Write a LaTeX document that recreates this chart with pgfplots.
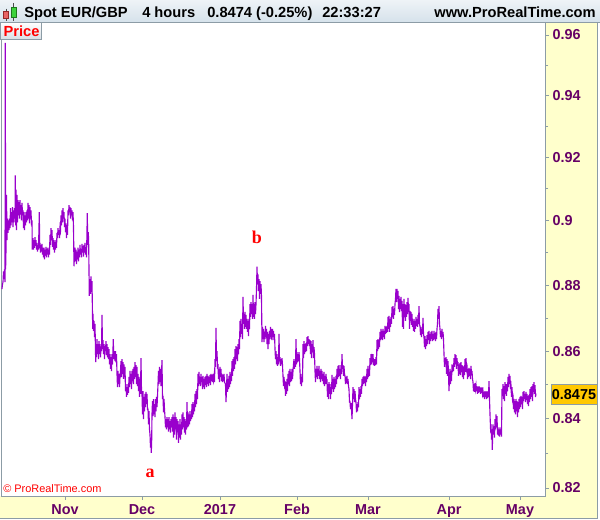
\documentclass[border=0pt]{standalone}
\usepackage{fontspec}
\setmainfont{Liberation Sans}
\newfontfamily\serifb{Liberation Serif}
\usepackage{pgfplots}
\pgfplotsset{compat=1.18}
\definecolor{ylw}{RGB}{255,255,204}
\definecolor{bordergray}{RGB}{140,156,166}
\definecolor{labpurple}{RGB}{102,0,102}
\definecolor{linecol}{RGB}{153,0,204}
\definecolor{hdrtop}{RGB}{238,243,247}
\definecolor{hdrbot}{RGB}{214,226,235}
\definecolor{pricebox}{RGB}{255,200,0}
\newcommand{\lab}{\fontsize{10.8pt}{12pt}\selectfont\bfseries}
\begin{document}
\begin{tikzpicture}
\path[use as bounding box] (0pt,0pt) rectangle (450pt,-389.25pt);
\begin{scope}[x=0.75pt,y=-0.75pt]
\fill[white] (0,0) rectangle (600,519);
\fill[ylw] (545,22) rectangle (597,518);
\fill[ylw] (0,496) rectangle (597,518);
\shade[top color=hdrtop,bottom color=hdrbot] (0,0) rectangle (600,22);
\draw[bordergray,line width=0.75pt] (0,22) -- (600,22);
\draw[bordergray,line width=0.75pt] (597,22) -- (597,518) -- (0,518);
% candle icon
\draw[black!70] (5.8,8.5) -- (5.8,20.5);
\filldraw[fill={rgb,255:red,232;green,100;blue,100},draw={rgb,255:red,150;green,40;blue,40}] (3.5,11.7) rectangle (8.2,18.3);
\draw[black!70] (13.7,3.3) -- (13.7,20.7);
\filldraw[fill={rgb,255:red,60;green,210;blue,60},draw={rgb,255:red,30;green,120;blue,30}] (10.8,7.3) rectangle (16.6,17.3);
\node[anchor=base west,inner sep=0pt,font=\fontsize{11pt}{12pt}\selectfont\bfseries] at (24,17.3) {Spot EUR/GBP};
\node[anchor=base west,inner sep=0pt,font=\fontsize{11pt}{12pt}\selectfont\bfseries] at (142,17.3) {4 hours};
\node[anchor=base west,inner sep=0pt,font=\fontsize{11pt}{12pt}\selectfont\bfseries] at (207,17.3) {0.8474 (-0.25\%)};
\node[anchor=base west,inner sep=0pt,font=\fontsize{11pt}{12pt}\selectfont\bfseries] at (322,17.3) {22:33:27};
\node[anchor=base east,inner sep=0pt,font=\fontsize{11pt}{12pt}\selectfont\bfseries] at (596,17.3) {www.ProRealTime.com};
\end{scope}
\begin{axis}[
  at={(0.75pt,-16.5pt)}, anchor=north west,
  scale only axis, width=408pt, height=355.5pt,
  xmin=1, xmax=545,
  ymode=log, ymin=0.817720, ymax=0.964352,
  axis line style={draw=bordergray, line width=0.75pt},
  xtick={65,142,220,297,368,449,520},
  xticklabels={Nov,Dec,2017,Feb,Mar,Apr,May},
  ytick={0.82,0.84,0.86,0.88,0.9,0.92,0.94,0.96},
  yticklabels={0.82,0.84,0.86,0.88,0.9,0.92,0.94,0.96},
  minor ytick={0.83,0.85,0.87,0.89,0.91,0.93,0.95},
  xtick pos=left, ytick pos=right,
  yticklabel pos=right,
  tick align=outside,
  major tick length=3pt, minor tick length=2.4pt,
  xtick style={draw=bordergray, line width=0.6pt},
  ytick style={draw=bordergray, line width=0.6pt},
  xticklabel style={font=\lab, text=labpurple, anchor=base, inner sep=0pt, yshift=-11.25pt},
  yticklabel style={font=\lab, text=labpurple, anchor=west, inner sep=0pt, xshift=2.5pt},
]
\addplot[linecol, line width=0.85pt] coordinates {
(2,0.8788) (2.5,0.8803) (3,0.8809) (3.5,0.8842) (4,0.8818) (4.5,0.8848) (5,0.8809) (5.3,0.9574) (5.6,0.8848)
(6,0.8909) (6.5,0.9081) (7,0.8939) (7.5,0.9006) (8,0.8961) (8.5,0.9000) (9,0.8970) (9.5,0.9006) (10,0.8976)
(10.5,0.9039) (11,0.8985) (11.5,0.9026) (12,0.8994) (12.5,0.9042) (13,0.8979) (13.5,0.9032) (14,0.8994)
(14.5,0.9039) (15,0.9006) (15.3,0.9142) (15.7,0.8985) (16,0.9097) (16.5,0.8970) (17,0.9081) (17.5,0.8994)
(18,0.9064) (18.5,0.9016) (19,0.9058) (19.5,0.9006) (20,0.9064) (20.5,0.9019) (21,0.9048) (21.5,0.9000)
(22,0.9055) (22.5,0.9016) (23,0.9032) (23.5,0.8976) (24,0.9026) (24.5,0.8970) (25,0.9016) (25.5,0.8985)
(26,0.9026) (26.5,0.8994) (27,0.9032) (27.5,0.9000) (28,0.9055) (28.5,0.9006) (29,0.9048) (29.5,0.8991)
(30,0.9042) (30.5,0.9006) (31,0.9032) (31.5,0.8985) (32,0.9000) (32.3,0.8909) (33,0.8945) (33.5,0.8909)
(34,0.8939) (34.5,0.8915) (35,0.8948) (35.5,0.8921) (36,0.8939) (36.5,0.8909) (37,0.8930) (37.5,0.8903)
(38,0.8924) (38.5,0.8909) (39.3,0.9026) (39.7,0.8915) (40,0.8930) (40.5,0.8900) (41,0.8924) (41.5,0.8903)
(42,0.8927) (42.5,0.8894) (43,0.8915) (43.5,0.8885) (44,0.8915) (44.5,0.8879) (45,0.8909) (45.5,0.8891)
(46,0.8918) (46.5,0.8885) (47,0.8912) (47.5,0.8894) (48,0.8915) (48.5,0.8885) (49,0.8909) (49.5,0.8894)
(50,0.8955) (50.5,0.8924) (51,0.8976) (51.5,0.8939) (52,0.8970) (52.5,0.8918) (53,0.8945) (53.5,0.8909)
(54,0.8939) (54.5,0.8900) (55,0.8933) (55.5,0.8909) (56,0.8939) (56.5,0.8915) (57,0.8961) (57.5,0.8945)
(58,0.8976) (58.5,0.8955) (59,0.8970) (59.5,0.8945) (60,0.8979) (60.5,0.8970) (61,0.9016) (61.5,0.8985)
(62,0.9032) (62.5,0.8994) (63,0.9039) (63.5,0.9006) (64,0.9026) (64.5,0.8979) (65,0.9006) (65.5,0.8964)
(66,0.8991) (66.5,0.8945) (67,0.8985) (67.5,0.8955) (68,0.9032) (68.5,0.9016) (69,0.9048) (69.5,0.9026)
(70,0.9042) (70.5,0.9006) (71,0.9039) (71.5,0.9016) (72,0.9032) (72.5,0.9000) (73,0.9026) (73.5,0.8979)
(74,0.8858) (74.5,0.8894) (75,0.8915) (75.5,0.8873) (76,0.8909) (76.5,0.8864) (77,0.8903) (77.5,0.8879)
(78,0.8915) (78.5,0.8873) (79,0.8909) (79.5,0.8885) (80,0.8924) (80.5,0.8894) (81,0.8909) (81.5,0.8885)
(82,0.8927) (82.5,0.8903) (83,0.8921) (83.5,0.8888) (84,0.8924) (84.5,0.8900) (85,0.8930) (85.5,0.8894)
(86,0.8915) (86.5,0.8885) (87.3,0.9023) (87.7,0.8924) (88.3,0.8964) (88.7,0.8924) (89.3,0.8767) (90,0.8818)
(90.5,0.8773) (91,0.8827) (91.5,0.8779) (92,0.8812) (92.7,0.8667) (93,0.8712) (93.5,0.8661) (94,0.8691)
(94.5,0.8642) (95,0.8682) (95.7,0.8567) (96,0.8621) (96.5,0.8582) (97,0.8636) (97.5,0.8591) (98,0.8621)
(98.5,0.8576) (99,0.8630) (99.5,0.8591) (100,0.8621) (100.5,0.8582) (101,0.8612) (101.5,0.8600) (102,0.8709)
(102.5,0.8606) (103,0.8633) (103.5,0.8591) (104,0.8621) (104.5,0.8576) (105,0.8615) (105.5,0.8600) (106,0.8630)
(106.5,0.8588) (107,0.8621) (107.5,0.8582) (108,0.8612) (108.5,0.8576) (109,0.8606) (109.5,0.8561) (110,0.8591)
(110.5,0.8547) (111,0.8582) (111.5,0.8541) (112,0.8591) (112.5,0.8561) (113.3,0.8636) (113.7,0.8576) (114.5,0.8600)
(115,0.8570) (115.5,0.8600) (116,0.8567) (116.5,0.8591) (117,0.8532) (117.5,0.8493) (118,0.8541) (118.5,0.8502)
(119,0.8532) (119.5,0.8493) (120,0.8523) (120.5,0.8541) (121,0.8570) (121.5,0.8523) (122,0.8576) (122.5,0.8532)
(123,0.8567) (123.5,0.8517) (124,0.8561) (124.5,0.8523) (125,0.8553) (125.5,0.8481) (126,0.8502) (126.5,0.8464)
(127,0.8493) (127.5,0.8470) (128,0.8502) (128.5,0.8476) (129,0.8523) (129.5,0.8493) (130,0.8541) (130.5,0.8502)
(131,0.8532) (131.5,0.8487) (132,0.8541) (132.5,0.8511) (133,0.8547) (133.5,0.8502) (134,0.8553) (134.5,0.8517)
(135,0.8567) (135.5,0.8523) (136,0.8558) (136.5,0.8502) (137,0.8553) (137.5,0.8496)
(138,0.8532) (138.5,0.8481) (139,0.8523) (139.5,0.8464) (140,0.8517) (140.5,0.8473) (141,0.8579) (141.5,0.8481)
(142,0.8473) (142.5,0.8413) (143,0.8481) (143.5,0.8399) (144,0.8464) (144.5,0.8422) (145,0.8473) (145.5,0.8434)
(146,0.8479) (146.5,0.8443) (147,0.8473) (147.5,0.8428) (148,0.8428) (148.5,0.8384) (149,0.8422) (149.5,0.8369)
(150,0.8354) (150.5,0.8316) (151,0.8345) (151.3,0.8301) (151.7,0.8339) (152,0.8413) (152.5,0.8452) (153,0.8408)
(153.5,0.8458) (154,0.8413) (154.5,0.8443) (155,0.8405) (155.5,0.8458) (156,0.8422) (156.5,0.8464) (157,0.8434)
(157.5,0.8467) (158,0.8502) (158.5,0.8541) (159,0.8502) (159.5,0.8553) (160,0.8508) (160.5,0.8547) (161,0.8496)
(161.5,0.8532) (162,0.8573) (162.5,0.8458) (163,0.8467) (163.5,0.8419) (164,0.8458) (164.5,0.8428) (165,0.8405)
(165.5,0.8375) (166,0.8399) (166.5,0.8369) (167,0.8405) (167.5,0.8375) (168,0.8399) (168.5,0.8363) (169,0.8405)
(169.5,0.8369) (170,0.8393) (170.5,0.8360) (171,0.8399) (171.5,0.8375) (172,0.8405) (172.5,0.8363) (173,0.8413)
(173.5,0.8345) (174,0.8405) (174.5,0.8354) (175,0.8419) (175.5,0.8369) (176,0.8405) (176.5,0.8339) (177,0.8399)
(177.5,0.8363) (178,0.8393) (178.5,0.8330) (179,0.8384) (179.5,0.8345) (180,0.8399) (180.5,0.8339) (181,0.8384)
(181.5,0.8354) (182,0.8413) (182.5,0.8369) (183,0.8419) (183.5,0.8375) (184,0.8405) (184.5,0.8360) (185,0.8399)
(185.5,0.8354) (186,0.8393) (186.5,0.8369) (187,0.8449) (187.5,0.8375) (188,0.8419) (188.5,0.8378) (189,0.8413)
(189.5,0.8384) (190,0.8422) (190.5,0.8393) (191,0.8413) (191.5,0.8399) (192,0.8443) (192.5,0.8405) (193,0.8449)
(193.5,0.8413) (194,0.8443) (194.5,0.8422) (195,0.8473) (195.5,0.8434) (196,0.8481) (196.5,0.8443) (197,0.8487)
(197.5,0.8458) (198,0.8532) (198.5,0.8496) (199,0.8538) (199.5,0.8502) (200,0.8523) (200.5,0.8496) (201,0.8532)
(201.5,0.8508) (202,0.8523) (202.5,0.8487) (203,0.8526) (203.5,0.8493) (204,0.8517) (204.5,0.8487) (205,0.8523)
(205.5,0.8499) (206,0.8526) (206.5,0.8493) (207,0.8532) (207.5,0.8502) (208,0.8526) (208.5,0.8496) (209,0.8523)
(209.5,0.8505) (210,0.8529) (210.5,0.8499) (211,0.8532) (211.5,0.8511) (212,0.8529) (212.5,0.8508) (213,0.8532)
(213.5,0.8514) (214,0.8526) (214.5,0.8508) (215,0.8576) (215.5,0.8553) (216,0.8670) (216.5,0.8570) (217,0.8600)
(217.5,0.8553) (218,0.8556) (218.5,0.8517) (219,0.8547) (219.5,0.8508) (220,0.8553) (220.5,0.8523) (221,0.8547)
(221.5,0.8511) (222,0.8532) (222.5,0.8508) (223,0.8529) (223.5,0.8511) (224,0.8532) (224.5,0.8508) (225.5,0.8502)
(226,0.8449) (226.5,0.8487) (227,0.8532) (227.5,0.8479) (228,0.8517) (228.5,0.8487) (229,0.8526) (229.5,0.8493)
(230,0.8538) (230.5,0.8502) (231,0.8532) (231.5,0.8511) (232,0.8570) (232.5,0.8526) (233,0.8576) (233.5,0.8541)
(234,0.8582) (234.5,0.8547) (235,0.8606) (235.5,0.8561) (236,0.8615) (236.5,0.8576) (237,0.8612) (237.5,0.8570)
(238,0.8621) (238.5,0.8591) (239,0.8636) (239.5,0.8606) (240,0.8691) (240.5,0.8642) (241,0.8697) (241.5,0.8652)
(242,0.8682) (242.5,0.8636) (243,0.8764) (243.5,0.8682) (244,0.8712) (244.5,0.8667) (245,0.8718) (245.5,0.8673)
(246,0.8709) (246.5,0.8667) (247,0.8697) (247.5,0.8658) (248,0.8691) (248.5,0.8645) (249,0.8697) (249.5,0.8667)
(250,0.8742) (250.5,0.8703) (251,0.8748) (251.5,0.8712) (252,0.8742) (252.5,0.8697) (253,0.8770) (253.5,0.8703)
(254,0.8742) (254.5,0.8697) (255,0.8748) (255.5,0.8712) (256,0.8742) (256.5,0.8788) (257,0.8857) (257.5,0.8803)
(258,0.8833) (258.5,0.8782) (259,0.8818) (259.5,0.8758) (260,0.8812) (260.5,0.8773) (261,0.8803) (261.5,0.8764)
(262,0.8627) (262.5,0.8673) (263,0.8636) (263.5,0.8667) (264,0.8627) (264.5,0.8658) (265,0.8636) (265.5,0.8676)
(266,0.8642) (266.5,0.8667) (267,0.8621) (267.5,0.8658) (268,0.8606) (268.5,0.8652) (269,0.8621) (269.5,0.8661)
(270,0.8642) (270.5,0.8673) (271,0.8636) (271.5,0.8667) (272,0.8633) (272.5,0.8667) (273,0.8642) (273.5,0.8661)
(274,0.8633) (274.5,0.8652) (275,0.8606) (275.5,0.8576) (276,0.8600) (276.5,0.8561) (277,0.8591) (277.5,0.8556)
(278,0.8582) (278.5,0.8561) (279,0.8652) (279.5,0.8570) (280,0.8582) (280.5,0.8556) (281,0.8576) (281.5,0.8561)
(282,0.8579) (282.5,0.8558) (283,0.8526) (283.5,0.8496) (284,0.8523) (284.5,0.8502) (285,0.8511) (285.5,0.8467)
(286,0.8508) (286.5,0.8473) (287,0.8517) (287.5,0.8481) (288,0.8532) (288.5,0.8502) (289,0.8541) (289.5,0.8496)
(290,0.8547) (290.5,0.8508) (291,0.8538) (291.5,0.8511) (292,0.8547) (292.5,0.8517) (293,0.8541) (293.5,0.8561)
(294,0.8576) (294.5,0.8547) (295,0.8570) (295.5,0.8553) (296,0.8636) (296.5,0.8561) (297,0.8597) (297.5,0.8567)
(298,0.8591) (298.5,0.8570) (299,0.8597) (299.5,0.8576) (300,0.8541) (300.5,0.8502) (301,0.8532) (301.5,0.8496)
(302,0.8523) (302.5,0.8508) (303,0.8621) (303.5,0.8579) (304,0.8630) (304.5,0.8591) (305,0.8621) (305.5,0.8597)
(306,0.8624) (306.5,0.8600) (307,0.8642) (307.5,0.8615) (308,0.8645) (308.5,0.8621) (309,0.8636) (309.5,0.8615)
(310,0.8633) (310.5,0.8591) (311,0.8630) (311.5,0.8579) (312,0.8621) (312.5,0.8597) (313,0.8633) (313.5,0.8579)
(314,0.8612) (314.5,0.8591) (315,0.8541) (315.5,0.8508) (316,0.8547) (316.5,0.8523) (317,0.8556) (317.5,0.8517)
(318,0.8547) (318.5,0.8526) (319,0.8556) (319.5,0.8517) (320,0.8541) (320.5,0.8508) (321,0.8547) (321.5,0.8517)
(322,0.8541) (322.5,0.8511) (323,0.8532) (323.5,0.8502) (324,0.8538) (324.5,0.8496) (325,0.8526) (325.5,0.8502)
(326,0.8532) (326.5,0.8508) (327,0.8511) (327.5,0.8464) (328,0.8502) (328.5,0.8458) (329,0.8508) (329.5,0.8473)
(330,0.8502) (330.5,0.8458) (331,0.8493) (331.5,0.8473) (332,0.8529) (332.5,0.8487) (333,0.8517) (333.5,0.8479)
(334,0.8523) (334.5,0.8487) (335,0.8517) (335.5,0.8493) (336,0.8526) (336.5,0.8502) (337,0.8547) (337.5,0.8517)
(338,0.8556) (338.5,0.8523) (339,0.8558) (339.5,0.8526) (340,0.8547) (340.5,0.8517) (341,0.8558) (341.5,0.8532)
(342,0.8591) (342.5,0.8547) (343,0.8558) (343.5,0.8526) (344,0.8556) (344.5,0.8532) (345,0.8526) (345.5,0.8502)
(346,0.8523) (346.5,0.8505) (347,0.8526) (347.5,0.8502) (348,0.8517) (348.5,0.8496) (349,0.8487) (349.5,0.8449)
(350,0.8449) (350.5,0.8428) (351,0.8446) (351.5,0.8428) (352,0.8399) (352.5,0.8443) (353,0.8493) (353.5,0.8458)
(354,0.8487) (354.5,0.8449) (355,0.8481) (355.5,0.8458) (356,0.8449) (356.5,0.8419) (357,0.8443) (357.5,0.8422)
(358,0.8449) (358.5,0.8434) (359,0.8493) (359.5,0.8458) (360,0.8487) (360.5,0.8464) (361,0.8496) (361.5,0.8473)
(362,0.8517) (362.5,0.8496) (363,0.8523) (363.5,0.8502) (364,0.8526) (364.5,0.8505) (365,0.8523) (365.5,0.8496)
(366,0.8526) (366.5,0.8508) (367,0.8547) (367.5,0.8517) (368,0.8556) (368.5,0.8523) (369,0.8547) (369.5,0.8526)
(370,0.8579) (370.5,0.8558) (371,0.8591) (371.5,0.8561) (372,0.8579) (372.5,0.8567) (373,0.8591) (373.5,0.8558)
(374,0.8576) (374.5,0.8556) (375,0.8576) (375.5,0.8558) (376,0.8582) (376.5,0.8561) (377,0.8633) (377.5,0.8600)
(378,0.8636) (378.5,0.8606) (379,0.8633) (379.5,0.8612) (380,0.8658) (380.5,0.8633) (381,0.8667) (381.5,0.8636)
(382,0.8661) (382.5,0.8633) (383,0.8667) (383.5,0.8642) (384,0.8661) (384.5,0.8636) (385,0.8676) (385.5,0.8652)
(386,0.8673) (386.5,0.8655) (387,0.8676) (387.5,0.8658) (388,0.8703) (388.5,0.8667) (389,0.8706) (389.5,0.8658)
(390,0.8697) (390.5,0.8673) (391,0.8703) (391.5,0.8682) (392,0.8733) (392.5,0.8703) (393,0.8736) (393.5,0.8697)
(394,0.8727) (394.5,0.8709) (395,0.8742) (395.5,0.8758) (396,0.8788) (396.5,0.8748) (397,0.8788) (397.5,0.8758)
(398,0.8782) (398.5,0.8727) (399,0.8767) (399.5,0.8718) (400,0.8758) (400.5,0.8727) (401,0.8764) (401.5,0.8721)
(402,0.8752) (402.5,0.8673) (403,0.8742) (403.5,0.8667) (404,0.8758) (404.5,0.8703)
(405,0.8742) (405.5,0.8691) (406,0.8739) (406.5,0.8703) (407,0.8748) (407.5,0.8712) (408,0.8761) (408.5,0.8718)
(409,0.8742) (409.5,0.8667) (410,0.8721) (410.5,0.8691) (411,0.8718) (411.5,0.8679) (412,0.8712) (412.5,0.8673)
(413,0.8691) (413.5,0.8661) (414,0.8697) (414.5,0.8658) (415,0.8691) (415.5,0.8667) (416,0.8703) (416.5,0.8676)
(417,0.8697) (417.5,0.8673) (418,0.8709) (418.5,0.8682) (419,0.8736) (419.5,0.8679) (420,0.8676) (420.5,0.8648)
(421,0.8673) (421.5,0.8642) (422,0.8667) (422.5,0.8652) (423,0.8700) (423.5,0.8652) (424,0.8642) (424.5,0.8612)
(425,0.8645) (425.5,0.8606) (426,0.8636) (426.5,0.8615) (427,0.8648) (427.5,0.8621) (428,0.8658) (428.5,0.8633)
(429,0.8661) (429.5,0.8621) (430,0.8652) (430.5,0.8630) (431,0.8658) (431.5,0.8636) (432,0.8661) (432.5,0.8630)
(433,0.8652) (433.5,0.8633) (434,0.8661) (434.5,0.8636) (435,0.8655) (435.5,0.8630) (436,0.8658) (436.5,0.8636)
(437,0.8667) (437.5,0.8682) (438,0.8727) (438.5,0.8697) (439,0.8736) (439.5,0.8682) (440,0.8667) (440.5,0.8642)
(441,0.8661) (441.5,0.8636) (442,0.8667) (442.5,0.8642) (443,0.8658) (443.5,0.8636) (444,0.8591) (444.5,0.8553)
(445,0.8579) (445.5,0.8561) (446,0.8582) (446.5,0.8532) (447,0.8576) (447.5,0.8526) (448,0.8570) (448.5,0.8532)
(449,0.8481) (449.5,0.8523) (450,0.8547) (450.5,0.8502) (451,0.8541) (451.5,0.8511) (452,0.8561) (452.5,0.8538)
(453,0.8558) (453.5,0.8541) (454,0.8579) (454.5,0.8553) (455,0.8591) (455.5,0.8561) (456,0.8588) (456.5,0.8547)
(457,0.8579) (457.5,0.8556) (458,0.8567) (458.5,0.8526) (459,0.8561) (459.5,0.8532) (460,0.8564) (460.5,0.8529)
(461,0.8567) (461.5,0.8538) (462,0.8558) (462.5,0.8523) (463,0.8556) (463.5,0.8517) (464,0.8553) (464.5,0.8529)
(465,0.8576) (465.5,0.8538) (466,0.8579) (466.5,0.8547) (467,0.8553) (467.5,0.8517) (468,0.8547) (468.5,0.8523)
(469,0.8550) (469.5,0.8526) (470,0.8547) (470.5,0.8517) (471,0.8556) (471.5,0.8529) (472,0.8541) (472.5,0.8517)
(473,0.8508) (473.5,0.8481) (474,0.8502) (474.5,0.8479) (475,0.8505) (475.5,0.8487) (476,0.8499) (476.5,0.8481)
(477,0.8496) (477.5,0.8473) (478,0.8493) (478.5,0.8476) (479,0.8496) (479.5,0.8479) (480,0.8493) (480.5,0.8473)
(481,0.8490) (481.5,0.8476) (482,0.8493) (482.5,0.8473) (483,0.8481) (483.5,0.8464) (484,0.8479) (484.5,0.8458)
(485,0.8481) (485.5,0.8464) (486,0.8479) (486.5,0.8458) (487,0.8481) (487.5,0.8461) (488,0.8479) (488.5,0.8464)
(489,0.8511) (489.5,0.8458) (490,0.8413) (490.5,0.8375) (491,0.8384) (491.5,0.8339) (492,0.8369) (492.3,0.8310)
(492.7,0.8363) (493,0.8384) (493.5,0.8354) (494,0.8378) (494.5,0.8345) (495,0.8399) (495.5,0.8369) (496,0.8413)
(496.5,0.8375) (497,0.8408) (497.5,0.8354) (498,0.8375) (498.5,0.8351) (499,0.8369) (499.5,0.8348) (500,0.8375)
(500.5,0.8354) (501,0.8369) (501.5,0.8348) (502,0.8487) (502.5,0.8467) (503,0.8502) (503.5,0.8458) (504,0.8496)
(504.5,0.8452) (505,0.8508) (505.5,0.8473) (506,0.8502) (506.5,0.8467) (507,0.8502) (507.5,0.8481) (508,0.8523)
(508.5,0.8493) (509,0.8532) (509.5,0.8502) (510,0.8526) (510.5,0.8487) (511,0.8496) (511.5,0.8464) (512,0.8493)
(512.5,0.8458) (513,0.8464) (513.5,0.8428) (514,0.8458) (514.5,0.8419) (515,0.8452) (515.5,0.8413) (516,0.8458)
(516.5,0.8422) (517,0.8452) (517.5,0.8405) (518,0.8449) (518.5,0.8419) (519,0.8458) (519.5,0.8428) (520,0.8464)
(520.5,0.8434) (521,0.8467) (521.5,0.8443) (522,0.8464) (522.5,0.8428) (523,0.8479) (523.5,0.8452) (524,0.8481)
(524.5,0.8458) (525,0.8473) (525.5,0.8449) (526,0.8479) (526.5,0.8455) (527,0.8473) (527.5,0.8443) (528,0.8467)
(528.5,0.8437) (529,0.8470) (529.5,0.8449) (530,0.8487) (530.5,0.8458) (531,0.8493) (531.5,0.8464) (532,0.8496)
(532.5,0.8452) (533,0.8502) (533.5,0.8479) (534,0.8508) (534.5,0.8473) (535,0.8499) (535.5,0.8464) (536,0.8474)
};
\end{axis}
\begin{scope}[x=0.75pt,y=-0.75pt]
\shade[top color=white,bottom color={rgb,255:red,215;green,222;blue,228},draw=bordergray] (0,22.5) rectangle (41,39.5);
\node[anchor=base west,inner sep=0pt,text=red,font=\fontsize{11pt}{12pt}\selectfont\bfseries] at (3.3,36) {Price};
\node[anchor=base west,inner sep=0pt,text=red,font=\fontsize{8.2pt}{9pt}\selectfont] at (3,492.5) {\textcopyright{} ProRealTime.com};
\node[anchor=base,inner sep=0pt,text=red,font=\serifb\fontsize{13.5pt}{14pt}\selectfont\bfseries] at (150,477) {a};
\node[anchor=base,inner sep=0pt,text=red,font=\serifb\fontsize{13.5pt}{14pt}\selectfont\bfseries] at (257,243) {b};
\filldraw[fill=pricebox,draw=bordergray,line width=0.6pt] (551,384.5) rectangle (597,404);
\node[anchor=center,inner sep=0pt,font=\lab] at (574,394.5) {0.8475};
\end{scope}
\end{tikzpicture}
\end{document}
